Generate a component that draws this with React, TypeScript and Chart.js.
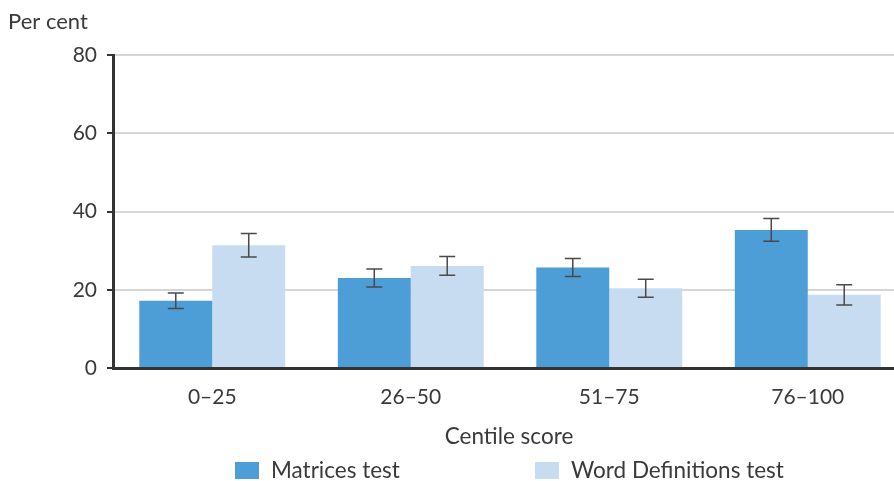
import React, { useEffect, useRef } from "react";
import { Chart, registerables } from "chart.js";

Chart.register(...registerables);

const categories = ["0–25", "26–50", "51–75", "76–100"];
const matrices = [17.2, 23.0, 25.7, 35.3];
const matricesErr = [2.0, 2.3, 2.3, 2.9];
const wordDefs = [31.4, 26.1, 20.4, 18.7];
const wordDefsErr = [3.0, 2.4, 2.3, 2.6];
const yTicks = [0, 20, 40, 60, 80];

const MATRICES_COLOR = "#4d9dd7";
const WORD_COLOR = "#c7dcf0";
const FONT = "Lato, 'Open Sans', sans-serif";
const TEXT = "#3a3a3a";

const errorBars = {
  id: "errorBars",
  afterDatasetsDraw(chart: any) {
    const ctx = chart.ctx;
    const y = chart.scales.y;
    const errs = [matricesErr, wordDefsErr];
    ctx.save();
    ctx.strokeStyle = "#4a4a4a";
    ctx.lineWidth = 1.5;
    chart.data.datasets.forEach((ds: any, di: number) => {
      const meta = chart.getDatasetMeta(di);
      meta.data.forEach((bar: any, i: number) => {
        const v = ds.data[i];
        const e = errs[di][i];
        const top = y.getPixelForValue(v + e);
        const bot = y.getPixelForValue(v - e);
        const x = bar.x;
        const hw = 8;
        ctx.beginPath();
        ctx.moveTo(x, top);
        ctx.lineTo(x, bot);
        ctx.moveTo(x - hw, top);
        ctx.lineTo(x + hw, top);
        ctx.moveTo(x - hw, bot);
        ctx.lineTo(x + hw, bot);
        ctx.stroke();
      });
    });
    ctx.restore();
  },
};

const textPlugin = {
  id: "texts",
  afterDraw(chart: any) {
    const ctx = chart.ctx;
    ctx.save();
    ctx.fillStyle = TEXT;
    ctx.textBaseline = "middle";
    ctx.textAlign = "left";
    ctx.font = `22px ${FONT}`;
    ctx.fillText("Per cent", 8, 22);
    ctx.textAlign = "center";
    ctx.font = `22.5px ${FONT}`;
    ctx.fillText("Centile score", 509, 437);
    // legend
    const items = [
      { label: "Matrices test", color: MATRICES_COLOR, x: 235 },
      { label: "Word Definitions test", color: WORD_COLOR, x: 535 },
    ];
    ctx.textAlign = "left";
    ctx.font = `22.5px ${FONT}`;
    items.forEach((it) => {
      ctx.fillStyle = it.color;
      ctx.fillRect(it.x, 462, 24, 17);
      ctx.fillStyle = TEXT;
      ctx.fillText(it.label, it.x + 36, 471);
    });
    ctx.restore();
  },
};

export default function App() {
  const ref = useRef<HTMLCanvasElement | null>(null);
  useEffect(() => {
    document.body.style.margin = "0";
    document.body.style.overflow = "hidden";
    const chart = new Chart(ref.current as HTMLCanvasElement, {
      type: "bar",
      data: {
        labels: categories,
        datasets: [
          { label: "Matrices test", data: matrices, backgroundColor: MATRICES_COLOR },
          { label: "Word Definitions test", data: wordDefs, backgroundColor: WORD_COLOR },
        ],
      },
      options: {
        animation: false,
        responsive: false,
        layout: { padding: { top: 55, right: 1, left: 0, bottom: 0 } },
        datasets: { bar: { categoryPercentage: 0.735, barPercentage: 1 } } as any,
        plugins: { legend: { display: false }, tooltip: { enabled: false } },
        scales: {
          x: {
            grid: { display: false, drawTicks: false },
            border: { display: true, color: "#333", width: 3 },
            ticks: { color: TEXT, font: { family: FONT, size: 21 }, padding: 17 },
            afterFit(scale: any) {
              scale.height = 113;
            },
          },
          y: {
            min: 0,
            max: 80,
            afterBuildTicks(scale: any) {
              scale.ticks = yTicks.map((v) => ({ value: v }));
            },
            grid: { color: "#d6d6d6", lineWidth: 2, tickColor: "#333", tickLength: 6, tickWidth: 2 },
            border: { display: true, color: "#333", width: 3 },
            ticks: { color: TEXT, font: { family: FONT, size: 21 }, padding: 10 },
            afterFit(scale: any) {
              scale.width = 113;
            },
          },
        },
      },
      plugins: [errorBars, textPlugin],
    });
    return () => chart.destroy();
  }, []);
  return (
    <div style={{ position: "absolute", left: 0, top: 0, width: 908, height: 481 }}>
      <canvas ref={ref} width={908} height={481} />
    </div>
  );
}
